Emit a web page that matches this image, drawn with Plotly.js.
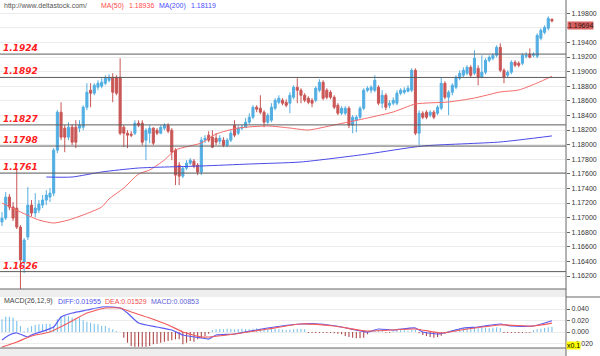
<!DOCTYPE html>
<html><head><meta charset="utf-8">
<script src="https://cdn.plot.ly/plotly-3.0.1.min.js"></script>
<style>html,body{margin:0;padding:0;background:#fff;}#chart{width:600px;height:356px;}</style>
</head><body><div id="chart"></div>
<script>
const candleOpen = [
1.16939,1.16993,1.17281,1.17144,1.17130,1.16870,1.16392,1.16734,1.17171,1.17062,
1.17103,1.17171,1.17240,1.17281,1.17335,1.17924,1.18444,1.18225,1.18102,1.18238,
1.18238,1.18225,1.18238,1.18512,1.18745,1.18704,1.18786,1.18799,1.18840,1.18881,
1.18922,1.18922,1.18922,1.18238,1.18156,1.18143,1.18156,1.18293,1.18293,1.18061,
1.18156,1.18225,1.18197,1.18156,1.18225,1.18266,1.18197,1.17924,1.17719,1.17568,
1.17677,1.17746,1.17773,1.17719,1.17623,1.18061,1.18129,1.18102,1.18088,1.18047,
1.18061,1.17992,1.18061,1.18266,1.18156,1.18225,1.18238,1.18307,1.18375,1.18512,
1.18498,1.18444,1.18307,1.18334,1.18498,1.18580,1.18608,1.18580,1.18567,1.18649,
1.18786,1.18745,1.18676,1.18635,1.18608,1.18608,1.18745,1.18854,1.18745,1.18717,
1.18649,1.18539,1.18430,1.18430,1.18498,1.18266,1.18334,1.18375,1.18498,1.18745,
1.18745,1.18745,1.18786,1.18567,1.18676,1.18539,1.18567,1.18567,1.18704,1.18717,
1.18731,1.18745,1.19018,1.18156,1.18430,1.18444,1.18403,1.18444,1.18430,1.18498,
1.18840,1.18649,1.18717,1.18786,1.18909,1.18950,1.18977,1.19059,1.18977,1.19045,
1.18922,1.18991,1.19155,1.19182,1.19223,1.19333,1.19018,1.18950,1.18991,1.19128,
1.19114,1.19114,1.19210,1.19237,1.19223,1.19210,1.19456,1.19538,1.19593,1.19716];
const candleHigh = [
1.17076,1.17349,1.17322,1.17212,1.17677,1.16898,1.16720,1.17418,1.17240,1.17335,
1.17240,1.17308,1.17376,1.17404,1.17951,1.18471,1.18580,1.18266,1.18307,1.18279,
1.18334,1.18334,1.18539,1.18840,1.18840,1.18840,1.18881,1.18909,1.18950,1.18963,
1.18977,1.18950,1.19182,1.18266,1.18197,1.18184,1.18334,1.18334,1.18334,1.18225,
1.18266,1.18238,1.18225,1.18266,1.18293,1.18293,1.18225,1.17951,1.17760,1.17705,
1.17787,1.17814,1.17801,1.17746,1.18102,1.18129,1.18184,1.18197,1.18156,1.18129,
1.18102,1.18088,1.18197,1.18334,1.18266,1.18279,1.18362,1.18430,1.18539,1.18539,
1.18676,1.18471,1.18430,1.18567,1.18635,1.18676,1.18635,1.18621,1.18717,1.18813,
1.18909,1.18772,1.18704,1.18662,1.18635,1.18799,1.18895,1.18881,1.18772,1.18745,
1.18676,1.18567,1.18526,1.18526,1.18526,1.18403,1.18403,1.18526,1.18772,1.18799,
1.18813,1.18950,1.18813,1.18745,1.18704,1.18608,1.18649,1.18745,1.18772,1.18786,
1.18813,1.19045,1.19045,1.18471,1.18457,1.18471,1.18471,1.18471,1.18539,1.18922,
1.18868,1.18745,1.18840,1.18950,1.19018,1.19059,1.19087,1.19087,1.19292,1.19087,
1.19223,1.19182,1.19223,1.19251,1.19360,1.19387,1.19045,1.19018,1.19155,1.19155,
1.19141,1.19251,1.19264,1.19319,1.19264,1.19524,1.19593,1.19634,1.19757,1.19729];
const candleLow = [
1.16884,1.16966,1.17103,1.16952,1.16843,1.15940,1.16241,1.16692,1.17021,1.17007,
1.17062,1.17130,1.17171,1.17212,1.17294,1.17883,1.18061,1.17896,1.18061,1.17992,
1.17951,1.18170,1.18197,1.18471,1.18512,1.18676,1.18745,1.18772,1.18813,1.18854,
1.18580,1.18676,1.18129,1.17965,1.17951,1.18102,1.18129,1.18238,1.17992,1.17787,
1.18020,1.17992,1.18129,1.18143,1.18197,1.18156,1.17787,1.17445,1.17445,1.17541,
1.17650,1.17719,1.17677,1.17582,1.17582,1.18020,1.18033,1.17951,1.17992,1.18006,
1.17965,1.17965,1.18033,1.18102,1.18129,1.18197,1.18225,1.18279,1.18348,1.18444,
1.18416,1.18238,1.18279,1.18307,1.18471,1.18553,1.18539,1.18512,1.18430,1.18621,
1.18567,1.18567,1.18580,1.18553,1.18512,1.18580,1.18717,1.18608,1.18621,1.18621,
1.18485,1.18403,1.18403,1.18403,1.18225,1.18156,1.18170,1.18348,1.18471,1.18717,
1.18704,1.18717,1.18539,1.18498,1.18471,1.18498,1.18539,1.18539,1.18676,1.18690,
1.18717,1.18717,1.18129,1.17992,1.18348,1.18348,1.18375,1.18348,1.18403,1.18471,
1.18621,1.18403,1.18676,1.18758,1.18881,1.18922,1.18950,1.18922,1.18950,1.18813,
1.18909,1.18963,1.19128,1.19155,1.19196,1.18991,1.18840,1.18922,1.18963,1.19059,
1.19059,1.19087,1.19182,1.19182,1.19196,1.19182,1.19428,1.19511,1.19565,1.19675];
const candleClose = [
1.16993,1.17281,1.17144,1.16993,1.16870,1.16419,1.16692,1.17171,1.17062,1.17130,
1.17185,1.17240,1.17308,1.17335,1.17924,1.18444,1.18102,1.18102,1.18238,1.18033,
1.18033,1.18266,1.18512,1.18717,1.18704,1.18813,1.18840,1.18854,1.18909,1.18922,
1.18717,1.18704,1.18156,1.18156,1.18129,1.18129,1.18293,1.18266,1.18033,1.18197,
1.18225,1.18020,1.18156,1.18238,1.18266,1.18184,1.17896,1.17582,1.17568,1.17677,
1.17746,1.17787,1.17705,1.17623,1.18061,1.18088,1.18061,1.17965,1.18033,1.18088,
1.17992,1.18061,1.18156,1.18129,1.18225,1.18238,1.18307,1.18375,1.18512,1.18485,
1.18444,1.18307,1.18403,1.18512,1.18608,1.18635,1.18567,1.18539,1.18676,1.18786,
1.18745,1.18676,1.18608,1.18580,1.18567,1.18772,1.18854,1.18635,1.18649,1.18649,
1.18512,1.18430,1.18498,1.18498,1.18266,1.18375,1.18375,1.18498,1.18745,1.18772,
1.18786,1.18881,1.18567,1.18676,1.18512,1.18567,1.18608,1.18704,1.18745,1.18745,
1.18772,1.19018,1.18156,1.18430,1.18375,1.18375,1.18444,1.18375,1.18512,1.18840,
1.18649,1.18717,1.18813,1.18922,1.18977,1.19018,1.19059,1.18950,1.19182,1.18922,
1.18991,1.19155,1.19196,1.19223,1.19333,1.19018,1.18922,1.18991,1.19128,1.19087,
1.19087,1.19223,1.19223,1.19196,1.19237,1.19497,1.19565,1.19606,1.19729,1.19694];

const ma50Idx = [0,5,10,14,18,22,27,29,33,37,40,44,47,54,58,64,72,78,83,90,99,106,112,121,128,135,140,145,149];
const ma50Val = [1.17200,1.17077,1.16967,1.16926,1.16967,1.17036,1.17145,1.17255,1.17405,1.17597,1.17652,1.17789,1.17926,1.18022,1.18145,1.18227,1.18255,1.18227,1.18200,1.18269,1.18364,1.18447,1.18556,1.18584,1.18638,1.18721,1.18748,1.18844,1.18936];
const ma200Idx = [12,19,27,37,54,67,81,99,114,135,149];
const ma200Val = [1.17556,1.17556,1.17625,1.17679,1.17707,1.17734,1.17762,1.17871,1.17981,1.18036,1.18119];

const levels = [1.1924, 1.1892, 1.1827, 1.1798, 1.1761, 1.1626];
const priceTicks = [1.162,1.164,1.166,1.168,1.170,1.172,1.174,1.176,1.178,1.180,1.182,1.184,1.186,1.188,1.190,1.192,1.194,1.196,1.198];
const lastPrice = 1.19694;

const diffIdx = [0,2,4,7,8,14,16,19,23,27,30,32,34,37,42,46,49,54,56,58,63,72,81,86,92,99,102,106,112,114,118,121,125,129,135,138,144,149];
const diffVal = [-0.0139,-0.0052,-0.0017,-0.0087,-0.0052,0.0087,0.0261,0.0330,0.0383,0.0435,0.0435,0.0417,0.0330,0.0157,0.0087,0.0035,-0.0052,-0.0104,-0.0122,-0.0052,-0.0035,0.0070,0.0139,0.0139,0.0087,0.0000,0.0052,0.0035,0.0070,0.0000,-0.0035,0.0000,0.0070,0.0087,0.0139,0.0104,0.0104,0.01955];
const deaIdx = [0,4,8,13,18,23,28,32,35,40,45,49,54,56,63,72,81,90,99,112,119,126,135,144,149];
const deaVal = [-0.0261,-0.0174,-0.0070,0.0000,0.0157,0.0330,0.0417,0.0417,0.0348,0.0243,0.0122,0.0000,-0.0087,-0.0087,-0.0035,0.0052,0.0139,0.0104,0.0017,0.0052,-0.0017,0.0052,0.0122,0.0104,0.01529];
const macdHist = [
0.0221,0.0266,0.0266,0.0249,0.0191,0.0104,0.0017,0.0075,0.0104,0.0122,
0.0134,0.0134,0.0144,0.0144,0.0104,0.0221,0.0278,0.0278,0.0278,0.0249,
0.0221,0.0249,0.0203,0.0179,0.0162,0.0144,0.0134,0.0104,0.0104,0.0075,
0.0047,0.0017,0.0005,-0.0099,-0.0186,-0.0243,-0.0256,-0.0256,-0.0256,-0.0256,
-0.0243,-0.0214,-0.0203,-0.0186,-0.0169,-0.0157,-0.0144,-0.0127,-0.0127,-0.0214,
-0.0186,-0.0157,-0.0169,-0.0127,-0.0099,-0.0070,-0.0030,0.0035,0.0047,0.0052,
0.0047,0.0058,0.0052,0.0047,0.0052,0.0058,0.0052,0.0047,0.0058,0.0064,
0.0058,0.0052,0.0047,0.0058,0.0052,0.0047,0.0040,0.0035,0.0040,0.0047,
0.0052,0.0052,0.0047,-0.0017,-0.0017,-0.0017,-0.0017,-0.0017,-0.0017,-0.0017,
-0.0023,-0.0030,-0.0040,-0.0070,-0.0087,-0.0099,-0.0110,-0.0110,-0.0099,-0.0040,
0.0017,0.0030,0.0035,0.0030,-0.0012,-0.0012,0.0023,0.0030,0.0035,0.0030,
0.0023,0.0035,0.0040,-0.0023,-0.0052,-0.0070,-0.0087,-0.0099,-0.0087,-0.0064,
-0.0035,0.0017,0.0035,0.0052,0.0064,0.0070,0.0075,0.0075,0.0075,0.0070,
0.0075,0.0075,0.0064,0.0075,0.0081,0.0070,-0.0017,-0.0017,-0.0017,-0.0017,
-0.0017,-0.0017,-0.0012,-0.0012,0.0035,0.0047,0.0058,0.0070,0.0081,0.00853];
const macdTicks = [-0.02, 0, 0.02, 0.04];
const macdParams = "MACD(26,12,9)";

const xIdx = candleClose.map((_, i) => i);
const fnt = "Liberation Sans, Arial, sans-serif";

const traces = [
  {type:'candlestick', x:xIdx, open:candleOpen, high:candleHigh, low:candleLow, close:candleClose,
   xaxis:'x', yaxis:'y', whiskerwidth:0,
   increasing:{line:{color:'#52aee2', width:1}, fillcolor:'#52aee2'},
   decreasing:{line:{color:'#c95656', width:1}, fillcolor:'#c95656'},
   hoverinfo:'skip'},
  {type:'scatter', mode:'lines', x:ma50Idx, y:ma50Val, xaxis:'x', yaxis:'y',
   line:{color:'#f46a6a', width:1, shape:'spline', smoothing:0.6}},
  {type:'scatter', mode:'lines', x:ma200Idx, y:ma200Val, xaxis:'x', yaxis:'y',
   line:{color:'#4a4ae8', width:1, shape:'spline', smoothing:0.6}},
  {type:'bar', x:xIdx, y:macdHist, xaxis:'x2', yaxis:'y2', width:0.3,
   marker:{color: macdHist.map(v => v >= 0 ? '#7cc2ea' : '#b04848'), line:{width:0}}},
  {type:'scatter', mode:'lines', x:diffIdx, y:diffVal, xaxis:'x2', yaxis:'y2',
   line:{color:'#5b5bf2', width:1.2, shape:'spline', smoothing:0.5}},
  {type:'scatter', mode:'lines', x:deaIdx, y:deaVal, xaxis:'x2', yaxis:'y2',
   line:{color:'#f25b5b', width:1.2, shape:'spline', smoothing:0.5}}
];

const H = 356, PW = 566;
const py = p => 1 - p / H;
const px = p => p / PW;

const shapes = [];
levels.forEach(v => shapes.push({type:'line', xref:'paper', x0:0, x1:1, yref:'y', y0:v, y1:v, line:{color:'#5c5c5c', width:1}}));
shapes.push({type:'rect', xref:'paper', x0:0, x1:1, yref:'paper', y0:py(297), y1:py(289), fillcolor:'#eeeeee', line:{width:0}});
shapes.push({type:'rect', xref:'paper', x0:0, x1:1, yref:'paper', y0:0, y1:py(348), fillcolor:'#eeeeee', line:{width:0}});
shapes.push({type:'line', xref:'paper', x0:0, x1:1, yref:'paper', y0:py(289), y1:py(289), line:{color:'#666', width:1}});
shapes.push({type:'line', xref:'paper', x0:0, x1:1, yref:'paper', y0:py(348), y1:py(348), line:{color:'#666', width:1}});
shapes.push({type:'line', xref:'paper', x0:1, x1:1, yref:'paper', y0:0, y1:1, line:{color:'#666', width:1}});
shapes.push({type:'line', xref:'paper', x0:1, x1:px(600), yref:'paper', y0:py(297), y1:py(297), line:{color:'#666', width:1}});

const annotations = [];
levels.forEach(v => annotations.push({xref:'paper', x:px(2), xanchor:'left', yref:'y', y:v, yanchor:'middle', yshift:6,
  text:'<b><i>' + v.toFixed(4) + '</i></b>', showarrow:false, borderpad:0,
  font:{family:"DejaVu Sans, Verdana, sans-serif", size:9, color:'#ff2020'}}));
const topY = py(5.5);
annotations.push({xref:'paper', x:px(3), xanchor:'left', yref:'paper', y:topY, yanchor:'middle', text:'http://www.deltastock.com/', showarrow:false, borderpad:0, font:{family:fnt, size:7, color:'#555'}});
annotations.push({xref:'paper', x:px(100), xanchor:'left', yref:'paper', y:topY, yanchor:'middle', text:'MA(50)', showarrow:false, borderpad:0, font:{family:fnt, size:7, color:'#ff4d4d'}});
annotations.push({xref:'paper', x:px(128), xanchor:'left', yref:'paper', y:topY, yanchor:'middle', text:ma50Val[ma50Val.length-1].toFixed(5), showarrow:false, borderpad:0, font:{family:fnt, size:7, color:'#ff4d4d'}});
annotations.push({xref:'paper', x:px(158), xanchor:'left', yref:'paper', y:topY, yanchor:'middle', text:'MA(200)', showarrow:false, borderpad:0, font:{family:fnt, size:7, color:'#4a4aff'}});
annotations.push({xref:'paper', x:px(190), xanchor:'left', yref:'paper', y:topY, yanchor:'middle', text:ma200Val[ma200Val.length-1].toFixed(5), showarrow:false, borderpad:0, font:{family:fnt, size:7, color:'#4a4aff'}});
const macdY = py(301);
annotations.push({xref:'paper', x:px(3), xanchor:'left', yref:'paper', y:macdY, yanchor:'middle', text:macdParams, showarrow:false, borderpad:0, font:{family:fnt, size:7, color:'#444'}});
annotations.push({xref:'paper', x:px(57), xanchor:'left', yref:'paper', y:macdY, yanchor:'middle', text:'DIFF:' + diffVal[diffVal.length-1].toFixed(5), showarrow:false, borderpad:0, font:{family:fnt, size:7, color:'#5050f0'}});
annotations.push({xref:'paper', x:px(104), xanchor:'left', yref:'paper', y:macdY, yanchor:'middle', text:'DEA:' + deaVal[deaVal.length-1].toFixed(5), showarrow:false, borderpad:0, font:{family:fnt, size:7, color:'#f04a4a'}});
annotations.push({xref:'paper', x:px(150), xanchor:'left', yref:'paper', y:macdY, yanchor:'middle', text:'MACD:' + macdHist[macdHist.length-1].toFixed(5), showarrow:false, borderpad:0, font:{family:fnt, size:7, color:'#6060d8'}});
annotations.push({xref:'paper', x:1, xanchor:'left', xshift:1, yref:'y', y:lastPrice, yanchor:'top', text:lastPrice.toFixed(5), showarrow:false, borderpad:0, bgcolor:'#d8625f', font:{family:fnt, size:7, color:'#2a1010'}});
annotations.push({xref:'paper', x:1, xanchor:'left', xshift:0, yref:'paper', y:py(345.5), yanchor:'middle', text:'x0.1', showarrow:false, borderpad:0, bgcolor:'#ffff00', font:{family:fnt, size:7, color:'#000'}});

// the current-price box covers the 1.19600 label in the reference
const priceTickText = priceTicks.map(v => Math.abs(v - 1.196) < 1e-9 ? '' : v.toFixed(5));

const xr = [-2/3.691, (PW-2)/3.691];
const layout = {
  width:600, height:356, margin:{l:0, r:34, t:0, b:0}, paper_bgcolor:'#fff', plot_bgcolor:'#fff',
  showlegend:false, hovermode:false, dragmode:false, boxgap:0.3, boxgroupgap:0.2,
  xaxis:{domain:[0,1], range:xr, visible:false, rangeslider:{visible:false}, anchor:'y'},
  xaxis2:{domain:[0,1], range:xr, visible:false, anchor:'y2', matches:'x'},
  yaxis:{domain:[py(289), 1], range:[1.162 - 13/7300, 1.162 + 276/7300], side:'right', anchor:'x',
    tickvals:priceTicks, ticktext:priceTickText, gridcolor:'#ececec', gridwidth:1, zeroline:false,
    showline:false, ticks:'outside', ticklen:3, tickcolor:'#666', tickfont:{family:fnt, size:7, color:'#333'}},
  yaxis2:{domain:[py(348), py(297)], range:[(332-348)/575, (332-297)/575], side:'right', anchor:'x2',
    tickvals:macdTicks, tickformat:'.3f', gridcolor:'#ececec', zeroline:false,
    showline:false, ticks:'outside', ticklen:3, tickcolor:'#666', tickfont:{family:fnt, size:7, color:'#333'}},
  shapes:shapes, annotations:annotations
};
Plotly.newPlot('chart', traces, layout, {staticPlot:true, displayModeBar:false});
</script></body></html>
